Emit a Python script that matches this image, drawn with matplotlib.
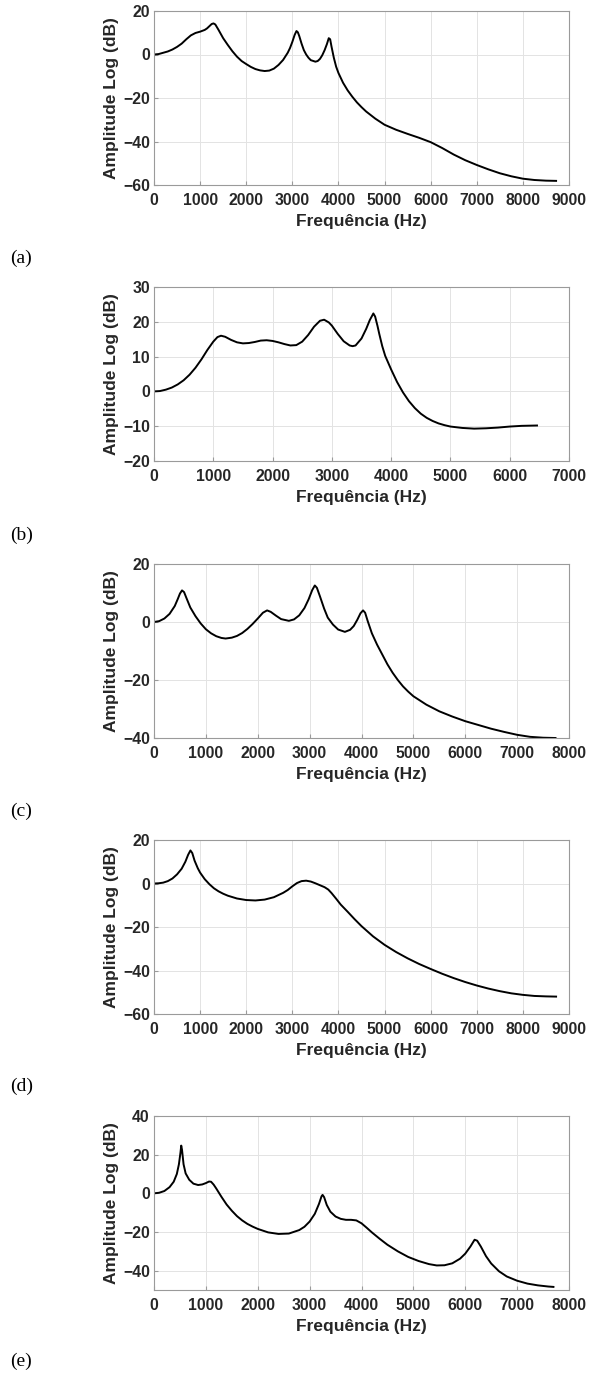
import numpy as np
import matplotlib.pyplot as plt

plt.rcParams['font.family'] = ['Liberation Sans', 'DejaVu Sans']

# (a)
freq_a = [0, 100, 200, 300, 400, 500, 600, 700, 800, 900, 1000, 1100, 1150, 1200, 1250, 1290,
          1330, 1400, 1500, 1600, 1700, 1800, 1900, 2000, 2100, 2200, 2300, 2400, 2500, 2600,
          2700, 2800, 2900, 2950, 3000, 3050, 3090, 3120, 3150, 3200, 3250, 3300, 3350, 3400,
          3500, 3550, 3600, 3650, 3700, 3750, 3790, 3820, 3850, 3900, 3950, 4000, 4100, 4200,
          4300, 4400, 4500, 4600, 4800, 5000, 5250, 5500, 5750, 6000, 6250, 6500, 6750, 7000,
          7250, 7500, 7750, 8000, 8250, 8500, 8720]
amp_a = [0, 0.2, 0.8, 1.4, 2.3, 3.5, 5.0, 7.0, 8.8, 9.9, 10.5, 11.3, 12.0, 13.0, 14.0, 14.3,
         13.8, 11.3, 7.5, 4.4, 1.5, -1.0, -3.0, -4.4, -5.7, -6.7, -7.3, -7.6, -7.4, -6.5,
         -4.8, -2.5, 0.8, 3.0, 5.8, 9.0, 10.8, 10.2, 8.5, 5.0, 2.0, 0.0, -1.5, -2.6,
         -3.3, -3.0, -2.0, -0.3, 2.0, 4.8, 7.5, 7.0, 3.6, -1.5, -5.6, -8.5, -13.0, -16.5,
         -19.4, -22.0, -24.2, -26.2, -29.5, -32.3, -34.6, -36.5, -38.3, -40.3, -43.0, -46.0, -48.6, -50.8,
         -52.8, -54.6, -56.0, -57.1, -57.7, -58.0, -58.1]

# (b)
freq_b = [0, 100, 200, 300, 400, 500, 600, 700, 800, 900, 1000, 1070, 1130, 1200, 1300, 1400,
          1500, 1600, 1700, 1800, 1900, 2000, 2100, 2200, 2300, 2400, 2500, 2600, 2700, 2800,
          2870, 2950, 3000, 3100, 3200, 3300, 3350, 3400, 3500, 3580, 3640, 3700, 3730, 3770,
          3800, 3850, 3900, 4000, 4100, 4200, 4300, 4400, 4500, 4600, 4700, 4800, 4900, 5000,
          5200, 5400, 5600, 5800, 6000, 6200, 6460]
amp_b = [0, 0.1, 0.5, 1.1, 2.0, 3.2, 4.8, 6.8, 9.2, 11.9, 14.3, 15.6, 16.0, 15.7, 14.8, 14.1,
         13.8, 13.9, 14.2, 14.6, 14.7, 14.5, 14.1, 13.6, 13.2, 13.3, 14.3, 16.2, 18.6, 20.3,
         20.6, 19.8, 18.9, 16.5, 14.4, 13.2, 13.0, 13.2, 15.2, 18.0, 20.5, 22.4, 21.5, 18.8,
         16.5, 13.0, 10.2, 6.3, 2.7, -0.3, -2.8, -4.8, -6.4, -7.6, -8.5, -9.2, -9.7, -10.1,
         -10.5, -10.7, -10.6, -10.4, -10.1, -9.9, -9.8]

# (c)
freq_c = [0, 100, 200, 300, 400, 460, 500, 540, 580, 620, 700, 800, 900, 1000, 1100, 1200,
          1300, 1380, 1500, 1600, 1700, 1800, 1900, 2000, 2100, 2180, 2250, 2350, 2450, 2600,
          2700, 2800, 2900, 2980, 3050, 3100, 3140, 3200, 3280, 3350, 3450, 3550, 3680, 3780,
          3850, 3920, 3980, 4030, 4070, 4120, 4200, 4300, 4400, 4500, 4600, 4700, 4800, 4900,
          5000, 5250, 5500, 5750, 6000, 6250, 6500, 6750, 7000, 7250, 7500, 7740]
amp_c = [0, 0.3, 1.2, 2.8, 5.5, 8.0, 9.8, 10.9, 10.3, 8.5, 5.0, 2.0, -0.5, -2.5, -3.9, -4.9,
         -5.5, -5.7, -5.4, -4.8, -3.8, -2.4, -0.7, 1.2, 3.2, 4.0, 3.5, 2.2, 1.0, 0.4,
         0.9, 2.3, 4.8, 7.8, 11.0, 12.6, 11.8, 8.8, 4.6, 1.5, -0.9, -2.6, -3.4, -2.7,
         -1.4, 0.8, 3.0, 4.0, 3.2, 0.3, -3.9, -7.8, -11.2, -14.6, -17.5, -20.0, -22.2, -24.0,
         -25.6, -28.5, -30.8, -32.6, -34.2, -35.5, -36.8, -37.9, -38.9, -39.6, -39.9, -40.0]

# (d)
freq_d = [0, 100, 200, 300, 400, 500, 600, 680, 740, 790, 830, 880, 950, 1000, 1100, 1200,
          1300, 1400, 1500, 1600, 1800, 2000, 2200, 2400, 2600, 2800, 2900, 3000, 3100, 3200,
          3300, 3400, 3500, 3600, 3700, 3780, 3850, 3950, 4050, 4200, 4350, 4500, 4750, 5000,
          5250, 5500, 5750, 6000, 6250, 6500, 6750, 7000, 7250, 7500, 7750, 8000, 8250, 8500,
          8720]
amp_d = [0, 0.1, 0.4, 1.1, 2.3, 4.2, 6.8, 10.0, 13.2, 15.2, 14.0, 10.5, 7.0, 5.0, 2.0, -0.3,
         -2.2, -3.6, -4.7, -5.6, -6.9, -7.6, -7.8, -7.4, -6.3, -4.3, -3.0, -1.3, 0.2, 1.1,
         1.3, 0.9, 0.1, -0.8, -1.7, -2.8, -4.4, -7.0, -9.7, -13.0, -16.4, -19.6, -24.3, -28.2,
         -31.5, -34.4, -37.0, -39.3, -41.5, -43.5, -45.3, -46.9, -48.3, -49.5, -50.5, -51.2, -51.7, -51.9,
         -52.0]

# (e)
freq_e = [0, 100, 200, 300, 380, 440, 480, 510, 525, 540, 570, 610, 680, 760, 850, 930,
          1000, 1060, 1100, 1150, 1200, 1300, 1400, 1500, 1600, 1700, 1800, 1900, 2000, 2200,
          2400, 2600, 2800, 2900, 3000, 3100, 3180, 3230, 3250, 3280, 3330, 3400, 3500, 3600,
          3700, 3800, 3900, 4000, 4100, 4200, 4350, 4500, 4700, 4900, 5100, 5300, 5450, 5600,
          5750, 5900, 6000, 6100, 6180, 6230, 6300, 6400, 6500, 6650, 6800, 7000, 7200, 7400,
          7600, 7700]
amp_e = [0, 0.3, 1.2, 3.2, 6.0, 10.0, 15.0, 21.0, 24.7, 22.5, 15.0, 10.3, 7.0, 5.0, 4.3, 4.6,
         5.3, 6.1, 6.0, 4.5, 2.5, -1.8, -5.8, -9.0, -11.8, -14.0, -15.8, -17.2, -18.4, -20.2,
         -21.0, -20.8, -19.0, -17.3, -14.6, -10.6, -5.5, -1.5, -0.8, -2.0, -6.0, -9.5, -12.0, -13.2,
         -13.7, -13.7, -14.0, -15.5, -17.8, -20.2, -23.5, -26.6, -30.0, -32.9, -35.0, -36.6, -37.3, -37.2,
         -36.2, -33.8, -31.2, -27.5, -24.0, -24.5, -27.5, -32.5, -36.3, -40.3, -43.0, -45.2, -46.7, -47.6,
         -48.2, -48.4]

panels = [
    (freq_a, amp_a, 9000, (-60, 20), [-60, -40, -20, 0, 20], '(a)'),
    (freq_b, amp_b, 7000, (-20, 30), [-20, -10, 0, 10, 20, 30], '(b)'),
    (freq_c, amp_c, 8000, (-40, 20), [-40, -20, 0, 20], '(c)'),
    (freq_d, amp_d, 9000, (-60, 20), [-60, -40, -20, 0, 20], '(d)'),
    (freq_e, amp_e, 8000, (-50, 40), [-40, -20, 0, 20, 40], '(e)'),
]

W, H = 591, 1374
fig = plt.figure(figsize=(W / 100, H / 100), dpi=100)

tops = [11, 287, 564, 840, 1116]
label_y = [258, 535, 811, 1086, 1361]

for (fx, fy, xmax, ylim, yt, tag), top, ly in zip(panels, tops, label_y):
    ax = fig.add_axes([154 / W, 1 - (top + 174) / H, 415 / W, 174 / H])
    ax.plot(fx, fy, color='black', lw=1.4)
    ax.set_xlim(0, xmax)
    ax.set_ylim(*ylim)
    ax.set_xticks(np.arange(0, xmax + 1, 1000))
    ax.set_yticks(yt)
    ax.grid(True, color='#e3e3e3', lw=0.7)
    ax.set_axisbelow(True)
    for s in ax.spines.values():
        s.set_color('#9a9a9a')
        s.set_linewidth(0.8)
    ax.tick_params(direction='in', length=3, color='#9a9a9a', labelsize=11.3,
                   labelcolor='#262626')
    ax.tick_params(axis='x', pad=6)
    ax.tick_params(axis='y', pad=3)
    for t in ax.get_xticklabels() + ax.get_yticklabels():
        t.set_fontweight('bold')
    ax.set_xlabel('Frequência (Hz)', fontsize=12.5, fontweight='bold', color='#262626', labelpad=4)
    ax.set_ylabel('Amplitude Log (dB)', fontsize=12.5, fontweight='bold', color='#262626', labelpad=3)
    fig.text(10 / W, 1 - ly / H, tag, family='Liberation Serif', fontsize=14, va='center', ha='left')

fig.savefig('out.png', dpi=100)
